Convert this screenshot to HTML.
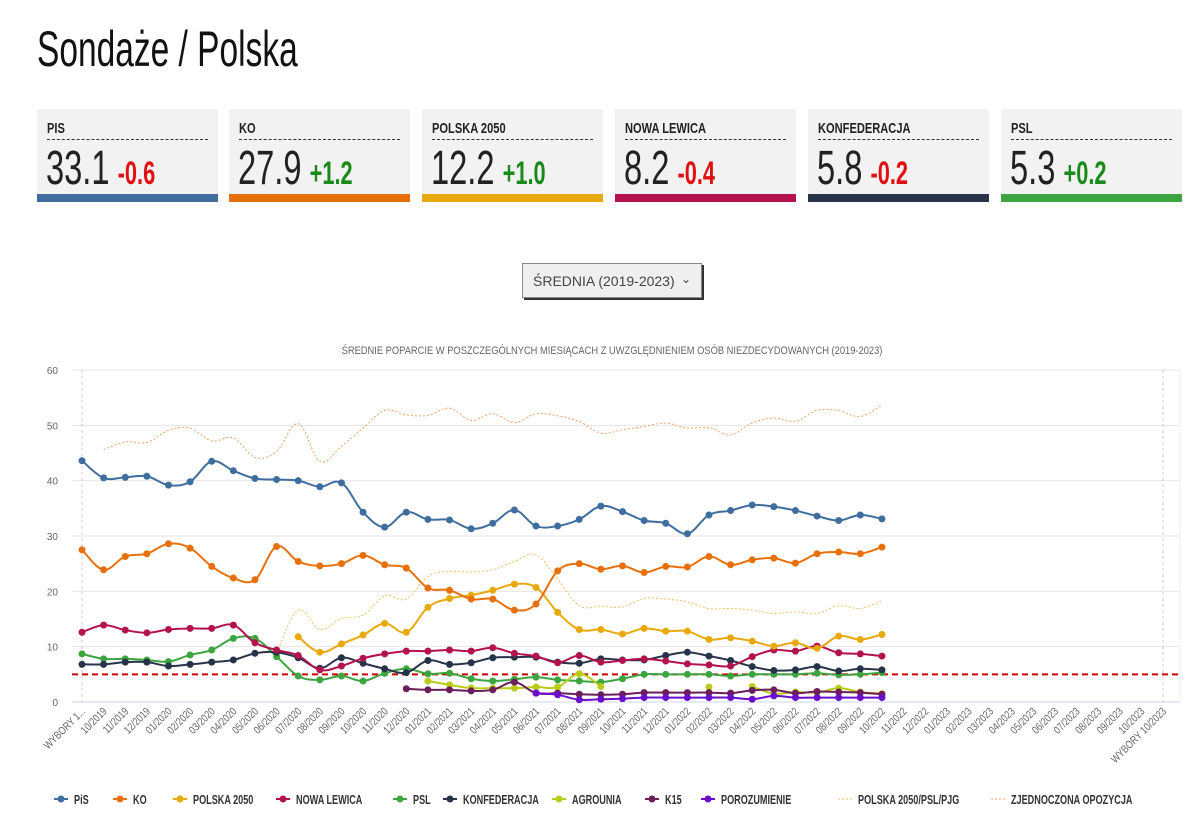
<!DOCTYPE html>
<html><head><meta charset="utf-8">
<style>
body{margin:0;background:#fff;width:1200px;height:820px;overflow:hidden;font-family:"Liberation Sans",sans-serif;}
h1{position:absolute;left:37px;top:20px;margin:0;font-weight:400;font-size:50px;color:#111;transform:scaleX(0.67);transform-origin:left top;white-space:nowrap;}
.card{position:absolute;top:109px;width:181px;height:93px;background:#f2f2f2;}
.card .lab{position:absolute;left:10px;top:11px;font-size:15px;font-weight:700;color:#222;transform:scaleX(0.74);transform-origin:left top;white-space:nowrap;}
.card .dash{position:absolute;left:10px;right:10px;top:30px;border-top:1px dashed #333;}
.card .val{position:absolute;left:9px;top:32px;font-size:48px;color:#222;white-space:nowrap;transform:scaleX(0.68);transform-origin:left top;}
.card .chg{font-size:32px;font-weight:700;margin-left:12px;}
.card .bar{position:absolute;left:0;right:0;bottom:0;height:8px;}
.neg{color:#e01010}.pos{color:#1a8a1a}
#sel{position:absolute;left:522px;top:263px;width:180px;height:35px;border:1px solid #888;background:#efefef;box-shadow:2px 2px 0 #333;font-size:14px;color:#444;box-sizing:border-box;padding:9px 0 0 10px;}
#sel span{position:absolute;right:10px;top:8px;font-size:12px;}
svg{position:absolute;left:0;top:0;}
</style></head><body>
<h1>Sondaże / Polska</h1>
<div class="card" style="left:37px"><div class="lab">PIS</div><div class="dash"></div><div class="val">33.1<span class="chg neg">-0.6</span></div><div class="bar" style="background:#3f6e9e"></div></div>
<div class="card" style="left:229px"><div class="lab">KO</div><div class="dash"></div><div class="val">27.9<span class="chg pos">+1.2</span></div><div class="bar" style="background:#e8700b"></div></div>
<div class="card" style="left:422px"><div class="lab">POLSKA 2050</div><div class="dash"></div><div class="val">12.2<span class="chg pos">+1.0</span></div><div class="bar" style="background:#e8a90c"></div></div>
<div class="card" style="left:615px"><div class="lab">NOWA LEWICA</div><div class="dash"></div><div class="val">8.2<span class="chg neg">-0.4</span></div><div class="bar" style="background:#b3124d"></div></div>
<div class="card" style="left:808px"><div class="lab">KONFEDERACJA</div><div class="dash"></div><div class="val">5.8<span class="chg neg">-0.2</span></div><div class="bar" style="background:#273349"></div></div>
<div class="card" style="left:1001px"><div class="lab">PSL</div><div class="dash"></div><div class="val">5.3<span class="chg pos">+0.2</span></div><div class="bar" style="background:#3da53f"></div></div>
<div id="sel">ŚREDNIA (2019-2023)<span>&#8964;</span></div>
<svg id="chart" width="1200" height="820"></svg>
<script>
const categories=["WYBORY 1..."];
for(let y=2019;y<=2023;y++)for(let m=1;m<=12;m++){if(y===2019&&m<10)continue;if(y===2023&&m>10)continue;categories.push((m<10?"0":"")+m+"/"+y);}
categories.push("WYBORY 10/2023");
const yTicks=[0,10,20,30,40,50,60];
const N=null;
const pis=[43.6,40.5,40.6,40.8,39.2,39.8,43.5,41.8,40.4,40.2,40.0,38.9,39.6,34.3,31.6,34.3,33.0,32.9,31.3,32.3,34.7,31.8,31.8,33.0,35.4,34.4,32.8,32.3,30.4,33.8,34.6,35.6,35.3,34.6,33.6,32.8,33.8,33.1];
const ko=[27.5,23.9,26.3,26.8,28.6,27.8,24.5,22.4,22.1,28.1,25.4,24.6,25.0,26.5,24.8,24.2,20.6,20.2,18.6,18.6,16.6,17.7,23.7,25.0,24.0,24.6,23.4,24.5,24.4,26.3,24.8,25.7,26.0,25.1,26.8,27.1,26.8,28.0];
const p2050=[N,N,N,N,N,N,N,N,N,N,11.8,9.0,10.5,12.1,14.2,12.6,17.1,18.7,19.3,20.2,21.3,20.7,16.2,13.1,13.1,12.3,13.3,12.8,12.8,11.3,11.6,11.0,10.1,10.7,9.7,11.9,11.3,12.2];
const nl=[12.6,13.9,13.0,12.5,13.1,13.3,13.3,13.9,10.7,9.4,8.4,5.8,6.5,7.9,8.7,9.2,9.2,9.4,9.2,9.8,8.8,8.3,7.1,8.4,7.2,7.5,7.8,7.4,6.9,6.7,6.5,8.2,9.4,9.2,10.1,8.9,8.7,8.3];
const psl=[8.7,7.8,7.8,7.6,7.3,8.5,9.4,11.5,11.5,8.2,4.7,4.0,4.7,3.8,5.2,6.0,5.1,5.2,4.2,3.8,4.1,4.5,4.0,3.8,3.6,4.2,5.0,5.0,5.0,5.0,4.7,5.0,5.0,5.0,5.2,4.9,5.0,5.3];
const konf=[6.8,6.8,7.2,7.2,6.5,6.8,7.2,7.6,8.8,9.0,8.0,6.1,8.0,7.0,6.0,5.3,7.5,6.8,7.1,8.0,8.1,8.1,7.2,7.0,7.8,7.6,7.6,8.4,9.0,8.3,7.5,6.4,5.7,5.8,6.4,5.6,6.0,5.8];
const agro=[N,N,N,N,N,N,N,N,N,N,N,N,N,N,N,N,3.8,3.1,2.5,2.5,2.5,2.7,2.7,5.1,2.8,N,N,N,N,2.7,N,2.8,1.5,1.8,1.7,2.5,1.8,1.5];
const k15=[N,N,N,N,N,N,N,N,N,N,N,N,N,N,N,2.4,2.2,2.2,2.0,2.2,3.6,1.6,1.6,1.4,1.3,1.4,1.7,1.7,1.7,1.7,1.6,2.1,2.2,1.6,1.9,1.8,1.7,1.4];
const poro=[N,N,N,N,N,N,N,N,N,N,N,N,N,N,N,N,N,N,N,N,N,1.6,1.3,0.4,0.5,0.6,0.8,0.8,0.8,0.8,0.8,0.5,1.1,0.8,0.8,0.8,0.8,0.8];
const p2050psl=[N,N,N,N,N,N,N,N,N,8.9,16.6,13.1,15.1,15.7,19.2,18.6,22.7,23.6,23.5,23.9,25.4,26.6,22.2,17.4,17.3,17.2,18.7,18.6,18.1,16.9,16.9,16.6,16.0,16.3,16.0,17.4,16.9,18.3];
const zjedn=[N,45.6,47.0,46.9,49.1,49.5,47.2,47.7,44.2,45.3,50.3,43.5,46.2,49.5,52.7,51.9,51.8,53.1,50.9,52.1,50.5,52.1,51.7,50.7,48.6,49.2,49.8,50.4,49.5,49.6,48.3,50.4,51.3,50.7,52.7,52.7,51.6,53.7];
const threshold=5;

const S="http://www.w3.org/2000/svg";
const svg=document.getElementById('chart');
const X0=82,DX=(1163-82)/(categories.length-1),Y0=702,YS=(702-370)/60;
const xs=i=>X0+DX*i, ys=v=>Y0-v*YS;
function el(t,a,p){const e=document.createElementNS(S,t);for(const k in a)e.setAttribute(k,a[k]);(p||svg).appendChild(e);return e;}
const title=el('text',{x:612,y:354,'text-anchor':'middle','font-size':11,fill:'#666',transform:'translate(612,0) scale(0.85,1) translate(-612,0)'});
title.textContent="ŚREDNIE POPARCIE W POSZCZEGÓLNYCH MIESIĄCACH Z UWZGLĘDNIENIEM OSÓB NIEZDECYDOWANYCH (2019-2023)";


yTicks.forEach(v=>{
  const g=el('line',{x1:72,x2:1180,y1:ys(v),y2:ys(v),stroke:v===0?'#ccd6eb':'#e6e6e6'});
  
  
  const t=el('text',{x:58,y:ys(v)+4,'text-anchor':'end','font-size':10,fill:'#666'});
  t.textContent=v;
  
  
});
[0,categories.length-1].forEach(i=>{const l=el('line',{x1:xs(i),x2:xs(i),y1:370,y2:702,stroke:'#ccc','stroke-dasharray':'3,3'});

});
el('line',{x1:1180,x2:1180,y1:370,y2:702,stroke:'#eee'});
categories.forEach((c,i)=>{
  const t=el('text',{x:0,y:0,'text-anchor':'end','font-size':11,fill:'#666',transform:`translate(${xs(i)+4},${712}) rotate(-45) scale(0.8,1)`});
  t.textContent=c;
  
  
});
const th=el('line',{x1:72,x2:1180,y1:ys(threshold),y2:ys(threshold),stroke:'#cc0000','stroke-width':2,'stroke-dasharray':'6,4'});


function spline(pts){
  let d='M'+pts[0][0]+','+pts[0][1];
  for(let i=0;i<pts.length-1;i++){
    const p0=pts[i-1]||pts[i],p1=pts[i],p2=pts[i+1],p3=pts[i+2]||p2;
    const k=0.18;
    d+=` C${p1[0]+(p2[0]-p0[0])*k},${p1[1]+(p2[1]-p0[1])*k} ${p2[0]-(p3[0]-p1[0])*k},${p2[1]-(p3[1]-p1[1])*k} ${p2[0]},${p2[1]}`;
  }
  return d;
}
function series(name,data,color,opts){
  const g=el('g',{});
  
  
  let segs=[],cur=[];
  data.forEach((v,i)=>{if(v===null){if(cur.length)segs.push(cur);cur=[];}else cur.push([xs(i),ys(v)]);});
  if(cur.length)segs.push(cur);
  segs.forEach(s=>{
    if(s.length>1){el('path',{d:spline(s),fill:'none',stroke:color,'stroke-width':opts.dash?1:2,'stroke-dasharray':opts.dash?'2,2':'none'},g);}
    if(!opts.dash)s.forEach(p=>{const c=el('circle',{cx:p[0],cy:p[1],r:3.5,fill:color},g);
      
      });
  });
}
series('zjednoczona-opozycja',zjedn,'#f0a060',{dash:true});
series('polska2050-psl-pjg',p2050psl,'#e8c060',{dash:true});
series('psl',psl,'#3da53f',{});
series('agrounia',agro,'#b8cc18',{});
series('k15',k15,'#6b1e5a',{});
series('porozumienie',poro,'#6a0dcc',{});
series('konfederacja',konf,'#273349',{});
series('nowa-lewica',nl,'#b3124d',{});
series('polska2050',p2050,'#e8a90c',{});
series('ko',ko,'#e8700b',{});
series('pis',pis,'#3f6e9e',{});
const legend=[["PiS","#3f6e9e",0],["KO","#e8700b",0],["POLSKA 2050","#e8a90c",0],["NOWA LEWICA","#b3124d",0],["PSL","#3da53f",0],["KONFEDERACJA","#273349",0],["AGROUNIA","#b8cc18",0],["K15","#6b1e5a",0],["POROZUMIENIE","#6a0dcc",0],["POLSKA 2050/PSL/PJG","#e8c060",1],["ZJEDNOCZONA OPOZYCJA","#f0a060",1]];
const lx=[54,113,173,276,393,443,552,645,701,838,991];
legend.forEach((l,i)=>{
  const g=el('g',{});
  
  
  const y=799;
  el('line',{x1:lx[i],x2:lx[i]+14,y1:y,y2:y,stroke:l[1],'stroke-width':l[2]?1:2,'stroke-dasharray':l[2]?'2,2':'none'},g);
  if(!l[2])el('circle',{cx:lx[i]+7,cy:y,r:3.5,fill:l[1]},g);
  const t=el('text',{x:0,y:0,'font-size':13,'font-weight':'bold',fill:'#333',transform:`translate(${lx[i]+20},${y+5}) scale(0.7,1)`},g);
  t.textContent=l[0];
});
</script>
</body></html>
